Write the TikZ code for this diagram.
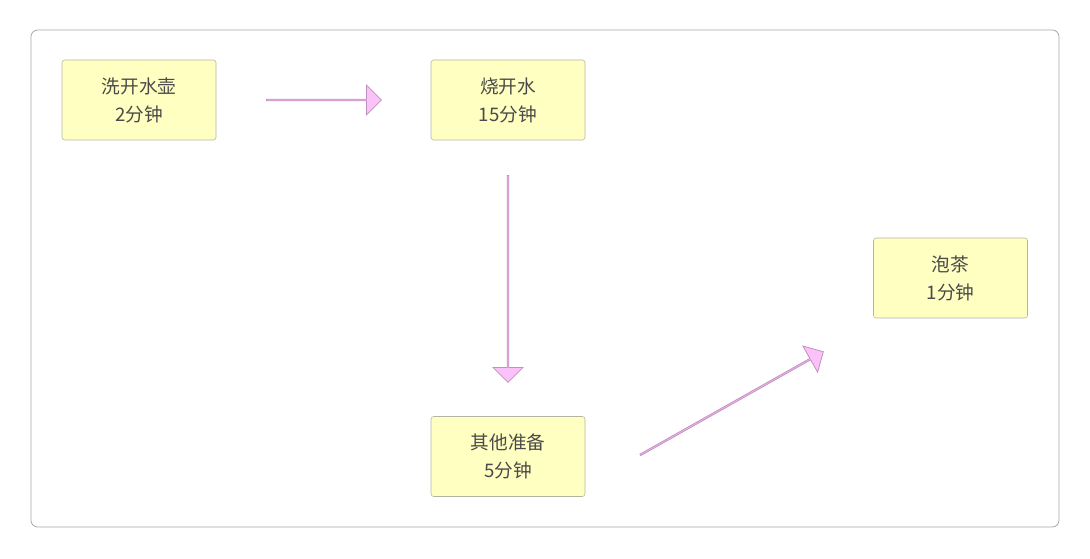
\documentclass[tikz,border=0pt]{standalone}
\usepackage{fontspec}
\newfontfamily\cjk{Noto Sans CJK SC}
\usetikzlibrary{shapes.arrows}
\definecolor{boxfill}{HTML}{FFFFC2}
\definecolor{boxline}{HTML}{B4B4A0}
\definecolor{arrfill}{HTML}{FBC2FA}
\definecolor{arrline}{HTML}{C090C0}
\definecolor{txt}{HTML}{4A4A4A}
\tikzset{
  task/.style={draw=boxline,fill=boxfill,rounded corners=2pt,minimum width=154*0.75pt,minimum height=80*0.75pt,align=center,font=\cjk\fontsize{14}{21}\selectfont,text=txt,inner sep=0pt},
  blockarrow/.style={single arrow,draw=arrline,fill=arrfill,minimum height=#1*0.75pt,minimum width=30*0.75pt,single arrow head extend=7*0.75pt,single arrow head indent=0pt,inner sep=0pt,shape border uses incircle=false,line width=0.6pt}
}
\begin{document}
\begin{tikzpicture}[x=0.75pt,y=-0.75pt]
\useasboundingbox (0,0) rectangle (1090,559);
\draw[draw=gray!70,rounded corners=5pt,line width=0.6pt] (31,30) rectangle (1059,527);
\node[task] (a) at (139,100) {洗开水壶\\2分钟};
\node[task] (b) at (508,100) {烧开水\\15分钟};
\node[task] (c) at (950.5,278) {泡茶\\1分钟};
\node[task] (d) at (508,456.5) {其他准备\\5分钟};
\node[blockarrow=115] (ab) at (323.5,100) {};
\node[blockarrow=207,rotate=-90] (bd) at (508,278.5) {};
\node[blockarrow=210,rotate=29.4] (dc) at (731.5,403.5) {};
\end{tikzpicture}
\end{document}
